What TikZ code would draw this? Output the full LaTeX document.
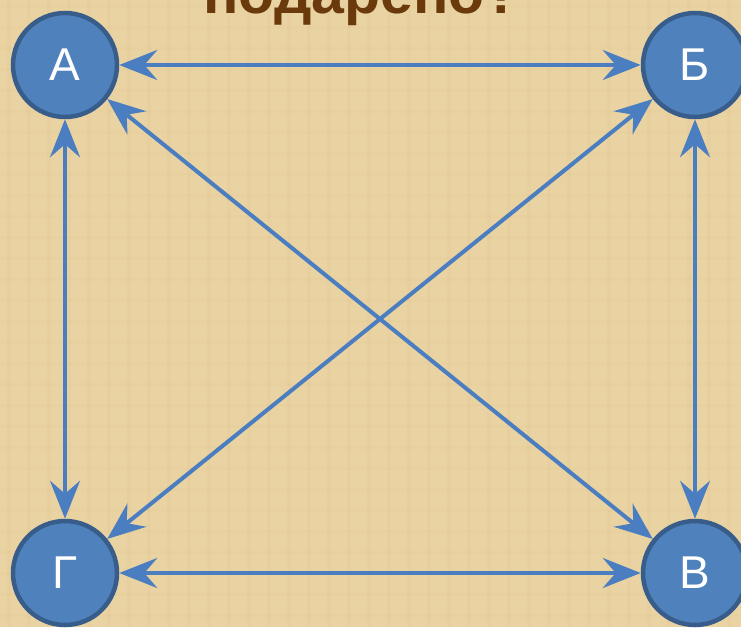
\documentclass[tikz,border=0pt]{standalone}
\usepackage{fontspec}
\setmainfont{Liberation Sans}
\usetikzlibrary{arrows.meta}
\definecolor{parch}{HTML}{EAD3A3}
\definecolor{parchdark}{HTML}{DCC08A}
\definecolor{nodefill}{HTML}{4F81BD}
\definecolor{nodeedge}{HTML}{385D8A}
\definecolor{linkblue}{HTML}{4A7EC0}
\definecolor{titlebrown}{HTML}{6B3A0C}
\tikzset{
  x=1pt, y=-1pt,
  vertex/.style={circle, fill=nodefill, draw=nodeedge, line width=4.5pt,
    minimum size=104pt, inner sep=0pt, text=white,
    font=\fontsize{46}{46}\selectfont},
  link/.style={draw=linkblue, line width=4pt,
    {Stealth[length=38pt, width=30pt, inset=13pt]}-{Stealth[length=38pt, width=30pt, inset=13pt]}},
}
\begin{document}
\begin{tikzpicture}
\useasboundingbox (0,0) rectangle (741,627);
\fill[parch] (0,0) rectangle (741,627);
% subtle parchment texture
\foreach \i in {0,...,36} {
  \pgfmathsetmacro{\xx}{\i*20+7}
  \fill[parchdark, opacity=0.18] (\xx,0) rectangle ++(4,627);
}
\foreach \j in {0,...,30} {
  \pgfmathsetmacro{\yy}{\j*21+5}
  \fill[parchdark, opacity=0.12] (0,\yy) rectangle ++(741,3);
}
\node[anchor=base, text=titlebrown, font=\fontsize{59}{59}\bfseries\selectfont, inner sep=0pt] (title) at (362,13) {подарено?};
\node[vertex] (A) at (65,65) {А};
\node[vertex] (B) at (695,65) {Б};
\node[vertex] (G) at (65,573) {Г};
\node[vertex] (V) at (695,573) {В};
\draw[link] (A) -- (B);
\draw[link] (G) -- (V);
\draw[link] (A) -- (G);
\draw[link] (B) -- (V);
\draw[link] (A) -- (V);
\draw[link] (B) -- (G);
\end{tikzpicture}
\end{document}
